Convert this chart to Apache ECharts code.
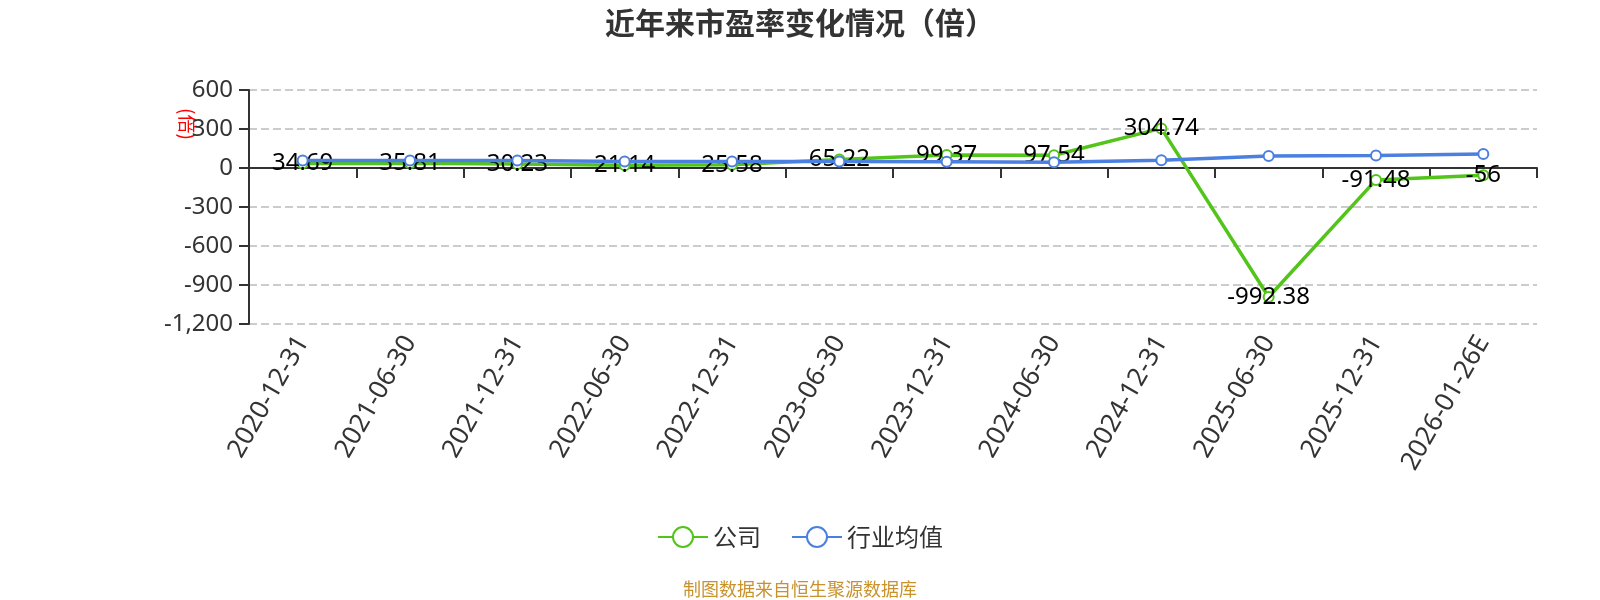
<!DOCTYPE html>
<html>
<head>
<meta charset="utf-8">
<script src="https://cdn.jsdelivr.net/npm/echarts@6/dist/echarts.min.js"></script>
<style>html,body{margin:0;padding:0;background:#fff}#c{width:1600px;height:600px}</style>
</head>
<body>
<div id="c"></div>
<script>
var categories = ['2020-12-31','2021-06-30','2021-12-31','2022-06-30','2022-12-31','2023-06-30','2023-12-31','2024-06-30','2024-12-31','2025-06-30','2025-12-31','2026-01-26E'];
var companyPE = [34.69, 35.81, 30.23, 21.14, 25.58, 65.22, 99.37, 97.54, 304.74, -992.38, -91.48, -56];
var industryPE = [58, 58, 58, 50, 50, 50, 48, 44, 60, 92, 97, 108];
var seriesNames = ['公司', '行业均值'];
var titleText = '近年来市盈率变化情况（倍）';
var unitText = '(倍)';
var sourceText = '制图数据来自恒生聚源数据库';

var cjk = '"Noto Sans CJK SC", "Noto Sans", sans-serif';
var latin = '"Noto Sans", "Noto Sans CJK SC", sans-serif';
var chart = echarts.init(document.getElementById('c'));
chart.setOption({
  animation: false,
  textStyle: {fontFamily: cjk},
  title: {
    text: titleText, left: 'center', top: 3,
    textStyle: {fontSize: 30, fontWeight: 'bold', color: '#333', fontFamily: cjk}
  },
  legend: {
    bottom: 46, left: 'center', itemWidth: 50, itemHeight: 25, itemGap: 30,
    textStyle: {fontSize: 24, color: '#333', fontFamily: cjk},
    data: seriesNames
  },
  graphic: [
    {type: 'text', left: 'center', bottom: 2, style: {text: sourceText, fill: '#c8922d', font: '18px ' + cjk}},
    {type: 'text', x: 187, y: 124, rotation: -Math.PI / 2, style: {text: unitText, fill: '#ff0000', font: '19px ' + cjk, align: 'center', verticalAlign: 'middle'}}
  ],
  grid: {left: 249, right: 63, top: 90, bottom: 276, containLabel: false},
  xAxis: [
    {
      type: 'category', data: categories, boundaryGap: true,
      axisLine: {onZero: true, lineStyle: {color: '#333', width: 2}},
      axisTick: {show: true, length: 10, lineStyle: {color: '#333', width: 2}},
      axisLabel: {show: false}
    },
    {
      type: 'category', data: categories, boundaryGap: true, position: 'bottom',
      axisLine: {show: false, onZero: false}, axisTick: {show: false},
      axisLabel: {rotate: 60, fontSize: 26, color: '#333', margin: 14, interval: 0, fontFamily: latin}
    }
  ],
  yAxis: {
    type: 'value', min: -1200, max: 600, interval: 300,
    axisLine: {show: true, lineStyle: {color: '#333', width: 2}},
    axisTick: {show: true, length: 10, lineStyle: {color: '#333', width: 2}},
    axisLabel: {fontSize: 24, color: '#333', margin: 16, fontFamily: latin},
    splitLine: {lineStyle: {type: 'dashed', color: '#ccc', width: 2}}
  },
  series: [
    {
      name: seriesNames[0], type: 'line', data: companyPE, xAxisIndex: 0, z: 2,
      symbol: 'emptyCircle', symbolSize: 10,
      lineStyle: {width: 3.5, color: '#52c41a'}, itemStyle: {color: '#52c41a', borderWidth: 2},
      label: {show: true, position: 'inside', fontSize: 24, color: '#000', fontFamily: latin}
    },
    {
      name: seriesNames[1], type: 'line', data: industryPE, xAxisIndex: 0, z: 4,
      symbol: 'emptyCircle', symbolSize: 10,
      lineStyle: {width: 3.5, color: '#4b7fe0'}, itemStyle: {color: '#4b7fe0', borderWidth: 2},
      label: {show: false}
    }
  ]
});
</script>
</body>
</html>
